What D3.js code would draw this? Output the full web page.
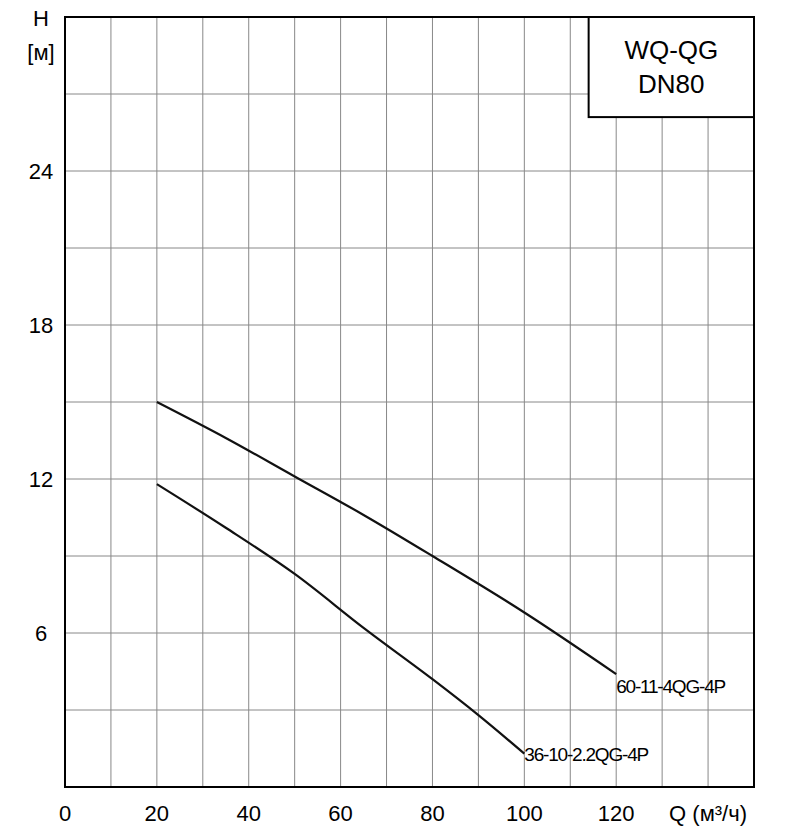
<!DOCTYPE html>
<html><head><meta charset="utf-8">
<script src="https://cdn.jsdelivr.net/npm/d3@7"></script>
<style>body{margin:0;background:#fff}text{font-family:Arial,"Liberation Sans",sans-serif}</style>
</head><body><svg id="chart" width="789" height="832"></svg>
<script>
var xTicks = [0, 20, 40, 60, 80, 100, 120];
var yTicks = [6, 12, 18, 24];
var curveA = [[20, 15.0], [35, 13.6], [50, 12.1], [65, 10.6], [80, 9.0], [100, 6.8], [120, 4.4]];
var curveB = [[20, 11.8], [35, 10.1], [50, 8.3], [65, 6.2], [80, 4.2], [90, 2.8], [100, 1.3]];
var labelA = "60-11-4QG-4P", labelB = "36-10-2.2QG-4P";

var margin = {top: 17, left: 65, right: 35, bottom: 45};
var width = 789 - margin.left - margin.right;
var height = 832 - margin.top - margin.bottom;
var x = d3.scaleLinear().domain([0, 150]).range([0, width]);
var y = d3.scaleLinear().domain([0, 30]).range([height, 0]);

var svg = d3.select("#chart");
var g = svg.append("g").attr("transform", "translate(" + margin.left + "," + margin.top + ")");

g.selectAll(".vg").data(d3.range(10, 150, 10)).enter().append("line")
    .attr("x1", d => x(d)).attr("x2", d => x(d)).attr("y1", 0).attr("y2", height)
    .attr("stroke", "#888").attr("stroke-width", 1);
g.selectAll(".hg").data(d3.range(3, 30, 3)).enter().append("line")
    .attr("y1", d => y(d)).attr("y2", d => y(d)).attr("x1", 0).attr("x2", width)
    .attr("stroke", "#888").attr("stroke-width", 1);

// legend box
g.append("rect").attr("x", x(114)).attr("y", 0).attr("width", width - x(114)).attr("height", y(30 - 3.9))
    .attr("fill", "#fff").attr("stroke", "#000").attr("stroke-width", 2);
g.append("text").attr("x", (x(114) + width) / 2).attr("y", 42).attr("text-anchor", "middle").attr("font-size", 26).text("WQ-QG");
g.append("text").attr("x", (x(114) + width) / 2).attr("y", 76).attr("text-anchor", "middle").attr("font-size", 26).text("DN80");

g.append("rect").attr("width", width).attr("height", height).attr("fill", "none").attr("stroke", "#000").attr("stroke-width", 2);

var line = d3.line().x(d => x(d[0])).y(d => y(d[1])).curve(d3.curveCatmullRom);
[curveA, curveB].forEach(c => g.append("path").attr("d", line(c)).attr("fill", "none").attr("stroke", "#111").attr("stroke-width", 2.2));

g.append("text").attr("x", x(120)).attr("y", y(4.4) + 19).attr("font-size", 19).attr("letter-spacing", -1.2).text(labelA);
g.append("text").attr("x", x(100)).attr("y", y(1.3) + 7).attr("font-size", 19).attr("letter-spacing", -1.2).text(labelB);

g.selectAll(".xt").data(xTicks).enter().append("text")
    .attr("x", d => x(d)).attr("y", height + 34).attr("text-anchor", "middle").attr("font-size", 22).text(d => d);
g.selectAll(".yt").data(yTicks).enter().append("text")
    .attr("x", -24).attr("y", d => y(d) + 8).attr("text-anchor", "middle").attr("font-size", 22).text(d => d);
g.append("text").attr("x", -24).attr("y", 9).attr("text-anchor", "middle").attr("font-size", 22).text("H");
g.append("text").attr("x", -24).attr("y", 43).attr("text-anchor", "middle").attr("font-size", 22).text("[м]");
g.append("text").attr("x", x(140)).attr("y", height + 34).attr("text-anchor", "middle").attr("font-size", 22).text("Q (м³/ч)");
</script></body></html>
